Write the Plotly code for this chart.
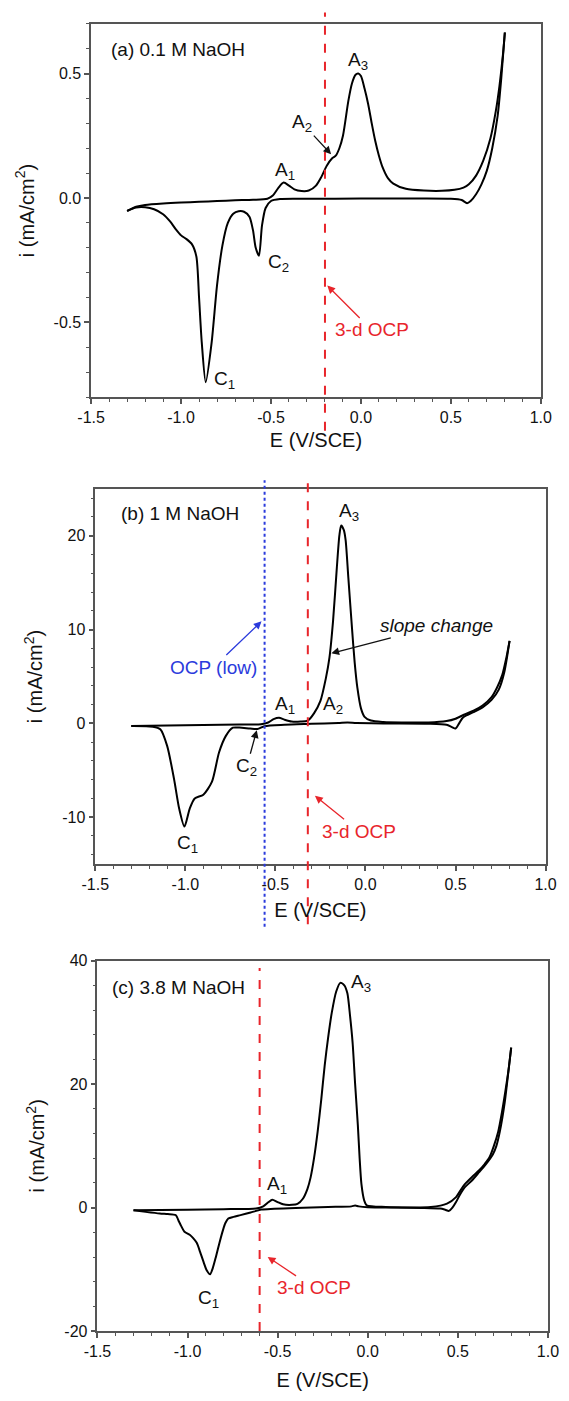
import plotly.graph_objects as go

# ---------------- data ----------------
# Panel (a) 0.1 M NaOH : anodic (forward) scan
E_a_fwd = [-1.30, -1.25, -1.20, -1.10, -1.00, -0.90, -0.80, -0.70, -0.60, -0.52, -0.49, -0.46,
           -0.43, -0.40, -0.37, -0.33, -0.29, -0.25, -0.22, -0.19, -0.16, -0.14, -0.12, -0.10,
           -0.07, -0.05, -0.03, -0.015, 0.00, 0.02, 0.04, 0.06, 0.08, 0.10, 0.12, 0.15, 0.18,
           0.25, 0.35, 0.45, 0.52, 0.57, 0.60, 0.64, 0.68, 0.72, 0.75, 0.77, 0.79, 0.80]
i_a_fwd = [-0.052, -0.035, -0.028, -0.022, -0.018, -0.015, -0.012, -0.009, -0.007, -0.003, 0.010, 0.040,
           0.062, 0.050, 0.035, 0.028, 0.030, 0.050, 0.085, 0.130, 0.160, 0.170, 0.200, 0.250,
           0.390, 0.460, 0.495, 0.500, 0.490, 0.440, 0.378, 0.300, 0.228, 0.170, 0.124, 0.080, 0.058,
           0.037, 0.030, 0.029, 0.033, 0.042, 0.055, 0.090, 0.150, 0.240, 0.350, 0.450, 0.580, 0.665]
# Panel (a) cathodic (reverse) scan
E_a_rev = [0.80, 0.78, 0.76, 0.73, 0.70, 0.67, 0.64, 0.61, 0.59, 0.56, 0.50, 0.30, 0.00, -0.30,
           -0.45, -0.50, -0.53, -0.55, -0.567, -0.585, -0.60, -0.62, -0.65, -0.68, -0.71, -0.74,
           -0.77, -0.80, -0.83, -0.863, -0.885, -0.90, -0.915, -0.94, -0.97, -1.00, -1.03, -1.06,
           -1.10, -1.15, -1.20, -1.25, -1.30]
i_a_rev = [0.665, 0.480, 0.330, 0.200, 0.110, 0.055, 0.015, -0.012, -0.021, -0.008, -0.003, -0.002, -0.002, -0.003,
           -0.004, -0.012, -0.040, -0.110, -0.232, -0.200, -0.130, -0.075, -0.055, -0.053, -0.063, -0.100,
           -0.190, -0.350, -0.580, -0.740, -0.580, -0.400, -0.235, -0.185, -0.165, -0.150, -0.125, -0.095,
           -0.065, -0.045, -0.037, -0.038, -0.052]

# Panel (b) 1 M NaOH
E_b_fwd = [-1.30, -1.10, -0.90, -0.70, -0.58, -0.54, -0.51, -0.48, -0.45, -0.41, -0.36, -0.32,
           -0.285, -0.25, -0.22, -0.20, -0.18, -0.16, -0.145, -0.135, -0.12, -0.11, -0.095, -0.075,
           -0.06, -0.045, -0.025, -0.005, 0.03, 0.10, 0.20, 0.35, 0.45, 0.50, 0.55, 0.60, 0.65,
           0.70, 0.73, 0.76, 0.78, 0.80]
i_b_fwd = [-0.28, -0.23, -0.18, -0.12, -0.08, 0.10, 0.45, 0.60, 0.40, 0.20, 0.20, 0.30,
           1.1, 2.4, 4.8, 7.0, 10.9, 16.3, 20.0, 21.1, 20.6, 19.5, 15.5, 10.2,
           6.5, 3.8, 1.6, 0.7, 0.3, 0.15, 0.10, 0.10, 0.25, 0.50, 0.95, 1.35, 1.90,
           2.80, 3.80, 5.20, 6.80, 8.80]
E_b_rev = [0.80, 0.77, 0.74, 0.70, 0.65, 0.60, 0.56, 0.54, 0.52, 0.50, 0.48, 0.45, 0.35, 0.10,
           -0.05, -0.10, -0.15, -0.30, -0.45, -0.56, -0.60, -0.64, -0.70, -0.736, -0.775, -0.813,
           -0.852, -0.90, -0.948, -0.976, -1.005, -1.034, -1.063, -1.101, -1.139, -1.18, -1.30]
i_b_rev = [8.80, 5.40, 3.60, 2.50, 1.70, 1.20, 0.85, 0.60, 0.00, -0.55, -0.40, -0.15, -0.03, 0.00,
           0.05, 0.10, 0.05, -0.05, -0.15, -0.30, -0.60, -0.55, -0.45, -0.46, -1.33, -3.1,
           -6.2, -7.6, -8.0, -9.1, -11.0, -9.1, -5.9, -2.4, -0.63, -0.35, -0.28]

# Panel (c) 3.8 M NaOH
E_c_fwd = [-1.30, -1.00, -0.80, -0.62, -0.58, -0.55, -0.53, -0.50, -0.47, -0.42, -0.39, -0.36,
           -0.335, -0.317, -0.298, -0.278, -0.258, -0.239, -0.22, -0.20, -0.175, -0.152, -0.13,
           -0.113, -0.098, -0.084, -0.07, -0.055, -0.045, -0.035, -0.02, -0.006, 0.10, 0.35,
           0.44, 0.49, 0.515, 0.539, 0.58, 0.617, 0.65, 0.675, 0.70, 0.724, 0.745, 0.763, 0.78, 0.796]
i_c_fwd = [-0.43, -0.35, -0.25, -0.16, 0.20, 0.90, 1.28, 0.90, 0.53, 0.45, 0.60, 1.44,
           3.0, 4.9, 8.0, 12.3, 17.5, 23.0, 27.5, 31.5, 35.0, 36.4, 36.0,
           34.7, 31.0, 26.7, 20.0, 13.4, 8.0, 3.8, 1.2, 0.37, 0.10, 0.10,
           0.64, 1.70, 2.80, 3.80, 5.00, 6.00, 7.10, 8.10, 10.0, 12.3, 15.5, 18.7, 22.0, 25.9]
E_c_rev = [0.796, 0.782, 0.76, 0.733, 0.714, 0.694, 0.655, 0.617, 0.575, 0.539, 0.51, 0.49, 0.47,
           0.451, 0.43, 0.403, 0.30, 0.169, 0.00, -0.05, -0.07, -0.09, -0.22, -0.40, -0.59, -0.65,
           -0.706, -0.745, -0.774, -0.79, -0.803, -0.822, -0.842, -0.86, -0.875, -0.893, -0.91,
           -0.93, -0.949, -0.97, -0.988, -1.017, -1.035, -1.047, -1.066, -1.11, -1.154, -1.232, -1.30]
i_c_rev = [25.9, 22.4, 17.0, 12.3, 10.0, 8.6, 7.0, 5.7, 4.3, 3.3, 2.0, 0.9, 0.0,
           -0.53, -0.35, -0.16, -0.05, 0.0, 0.05, 0.20, 0.35, 0.20, 0.10, -0.05, -0.32, -0.80,
           -1.22, -1.50, -1.76, -2.50, -3.6, -5.6, -7.9, -9.8, -10.8, -10.2, -8.9,
           -7.2, -5.7, -4.9, -4.4, -3.9, -3.0, -2.3, -1.2, -1.05, -0.96, -0.69, -0.43]

# OCP potentials (V/SCE)
ocp_3d = [-0.20, -0.32, -0.60]
ocp_low_b = -0.56

# tick labels
x_tickvals = [-1.5, -1.0, -0.5, 0.0, 0.5, 1.0]
x_ticktext = ["-1.5", "-1.0", "-0.5", "0.0", "0.5", "1.0"]
ya_tickvals = [-0.5, 0.0, 0.5]
ya_ticktext = ["-0.5", "0.0", "0.5"]
yb_tickvals = [-10, 0, 10, 20]
yb_ticktext = ["-10", "0", "10", "20"]
yc_tickvals = [-20, 0, 20, 40]
yc_ticktext = ["-20", "0", "20", "40"]

# ---------------- figure ----------------
FONT = "Liberation Sans, Arial, Helvetica, sans-serif"
RED = "#e8252b"
BLUE = "#2b3bdc"
AX = "#555555"
TICK_SIZE = 16
TITLE_SIZE = 20
LABEL_SIZE = 19

fig = go.Figure()
line = dict(color="black", width=2, shape="spline", smoothing=0.7)
for xs, ys, xa, ya in [(E_a_fwd, i_a_fwd, "x", "y"), (E_a_rev, i_a_rev, "x", "y"),
                       (E_b_fwd, i_b_fwd, "x2", "y2"), (E_b_rev, i_b_rev, "x2", "y2"),
                       (E_c_fwd, i_c_fwd, "x3", "y3"), (E_c_rev, i_c_rev, "x3", "y3")]:
    fig.add_trace(go.Scatter(x=xs, y=ys, mode="lines", line=line, xaxis=xa, yaxis=ya,
                             showlegend=False, hoverinfo="skip"))

panels = [
    dict(xd=[0.1418, 0.9684], yd=[0.7188, 0.9886], yr=[-0.8, 0.7], yv=ya_tickvals, yt=ya_ticktext, ydt=0.1, xs=8),
    dict(xd=[0.1494, 0.9772], yd=[0.3814, 0.6526], yr=[-15, 25], yv=yb_tickvals, yt=yb_ticktext, ydt=2, xs=11),
    dict(xd=[0.1534, 0.9815], yd=[0.0440, 0.3117], yr=[-20, 40], yv=yc_tickvals, yt=yc_ticktext, ydt=4, xs=14),
]
for k, p in enumerate(panels):
    n = "" if k == 0 else str(k + 1)
    fig.update_layout(**{
        "xaxis" + n: dict(domain=p["xd"], anchor="y" + n, range=[-1.5, 1.0], tickmode="array",
                          tickvals=x_tickvals, ticktext=x_ticktext, ticks="outside", ticklen=5,
                          tickwidth=1.5, tickcolor=AX, showline=True, linecolor=AX, linewidth=1.5,
                          mirror=True, showgrid=False, zeroline=False,
                          tickfont=dict(size=TICK_SIZE, color="#111", family=FONT),
                          minor=dict(ticks="outside", ticklen=3, tickwidth=1.2, tickcolor=AX,
                                     tickmode="linear", tick0=0, dtick=0.1),
                          title=dict(text="E (V/SCE)", font=dict(size=TITLE_SIZE, color="#111", family=FONT),
                                     standoff=p["xs"])),
        "yaxis" + n: dict(domain=p["yd"], anchor="x" + n, range=p["yr"], tickmode="array",
                          tickvals=p["yv"], ticktext=p["yt"], ticks="outside", ticklen=5,
                          tickwidth=1.5, tickcolor=AX, showline=True, linecolor=AX, linewidth=1.5,
                          mirror=True, showgrid=False, zeroline=False,
                          tickfont=dict(size=TICK_SIZE, color="#111", family=FONT),
                          minor=dict(ticks="outside", ticklen=3, tickwidth=1.2, tickcolor=AX,
                                     tickmode="linear", tick0=0, dtick=p["ydt"]),
                          title=dict(text="i (mA/cm<sup>2</sup>)", font=dict(size=TITLE_SIZE, color="#111", family=FONT),
                                     standoff=14)),
    })

# OCP lines
fig.add_shape(type="line", xref="x", yref="y domain", x0=ocp_3d[0], x1=ocp_3d[0], y0=-0.09, y1=1.03,
              line=dict(color=RED, width=2, dash="dash"))
fig.add_shape(type="line", xref="x2", yref="y2 domain", x0=ocp_3d[1], x1=ocp_3d[1], y0=-0.16, y1=1.015,
              line=dict(color=RED, width=2, dash="dash"))
fig.add_shape(type="line", xref="x2", yref="y2 domain", x0=ocp_low_b, x1=ocp_low_b, y0=-0.167, y1=1.023,
              line=dict(color=BLUE, width=2, dash="dot"))
fig.add_shape(type="line", xref="x3", yref="y3 domain", x0=ocp_3d[2], x1=ocp_3d[2], y0=0.0, y1=0.98,
              line=dict(color=RED, width=2, dash="dash"))


def label(text, x, y, xr, yr, color="#111", size=LABEL_SIZE, xanchor="center"):
    fig.add_annotation(text=text, x=x, y=y, xref=xr, yref=yr, showarrow=False, xanchor=xanchor,
                       yanchor="middle", font=dict(size=size, color=color, family=FONT))


def pointer(text, tx, ty, hx, hy, xr, yr, color="#111", size=LABEL_SIZE):
    # text centred at (tx, ty) with an arrow pointing at (hx, hy)
    fig.add_annotation(text=text, x=hx, y=hy, ax=tx, ay=ty, xref=xr, yref=yr, axref=xr, ayref=yr,
                       showarrow=True, arrowhead=2, arrowsize=1.2, arrowwidth=1.3, arrowcolor=color,
                       standoff=1, font=dict(size=size, color=color, family=FONT))


# panel (a)
label("(a) 0.1 M NaOH", -1.40, 0.596, "x", "y", xanchor="left")
label("A<sub>1</sub>", -0.423, 0.11, "x", "y")
pointer("A<sub>2</sub>", -0.326, 0.30, -0.162, 0.173, "x", "y")
label("A<sub>3</sub>", -0.017, 0.55, "x", "y")
label("C<sub>2</sub>", -0.46, -0.26, "x", "y")
label("C<sub>1</sub>", -0.76, -0.73, "x", "y")
pointer("3-d OCP", 0.06, -0.53, -0.191, -0.349, "x", "y", color=RED)

# panel (b)
label("(b) 1 M NaOH", -1.37, 22.35, "x2", "y2", xanchor="left")
label("A<sub>3</sub>", -0.094, 22.5, "x2", "y2")
pointer("<i>slope change</i>", 0.396, 10.4, -0.195, 7.44, "x2", "y2")
label("A<sub>2</sub>", -0.18, 2.0, "x2", "y2")
label("A<sub>1</sub>", -0.449, 2.0, "x2", "y2")
pointer("C<sub>2</sub>", -0.66, -4.67, -0.602, -0.63, "x2", "y2")
label("C<sub>1</sub>", -0.986, -12.9, "x2", "y2")
pointer("OCP (low)", -0.842, 6.0, -0.573, 10.95, "x2", "y2", color=BLUE)
pointer("3-d OCP", -0.036, -11.5, -0.285, -7.65, "x2", "y2", color=RED)

# panel (c)
label("(c) 3.8 M NaOH", -1.43, 35.6, "x3", "y3", xanchor="left")
label("A<sub>3</sub>", -0.035, 36.4, "x3", "y3")
label("A<sub>1</sub>", -0.502, 3.6, "x3", "y3")
label("C<sub>1</sub>", -0.881, -14.8, "x3", "y3")
pointer("3-d OCP", -0.298, -13.0, -0.56, -7.9, "x3", "y3", color=RED)

fig.update_layout(width=569, height=1401, margin=dict(l=0, r=0, t=0, b=0),
                  paper_bgcolor="white", plot_bgcolor="white",
                  font=dict(family=FONT, color="#111"))

fig.write_html("out.html")
